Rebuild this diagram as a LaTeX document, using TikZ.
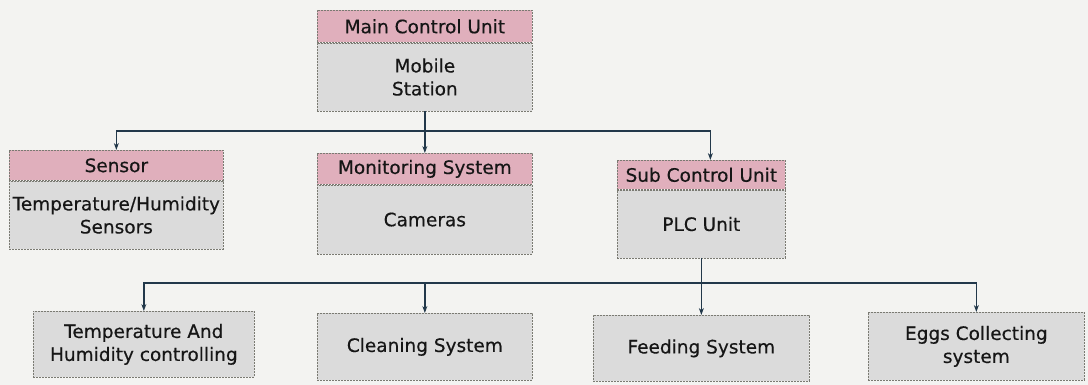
\documentclass[tikz,border=0pt]{standalone}
\usepackage{fontspec}
\setmainfont{DejaVu Sans}[FakeBold=0.4]
\usetikzlibrary{arrows.meta}
\definecolor{paper}{HTML}{F3F3F1}
\definecolor{hdrpink}{HTML}{E0AFBC}
\definecolor{boxgray}{HTML}{DBDBDB}
\definecolor{edge}{HTML}{7A7A72}
\definecolor{wire}{HTML}{22384A}
\definecolor{ink}{HTML}{161616}
\tikzset{
  boxbase/.style={draw=edge, line width=0.7pt, dash pattern=on 2pt off 1pt,
    inner sep=0pt, text=ink, align=center, font=\fontsize{18.5}{23}\selectfont},
  hdr/.style={boxbase, fill=hdrpink},
  bodybox/.style={boxbase, fill=boxgray},
  wireline/.style={draw=wire, line width=1.4pt},
  arrowline/.style={wireline, -{Stealth[length=7pt,width=5pt,fill=gray!70,color=wire]}}
}
\begin{document}
\begin{tikzpicture}[x=1pt,y=-1pt]
\useasboundingbox[fill=paper] (0,0) rectangle (1088,385);
% Main control unit
\node[hdr, minimum width=215pt, minimum height=32pt, anchor=north west] (mainH) at (317,10) {Main Control Unit};
\node[bodybox, minimum width=215pt, minimum height=68pt, anchor=north] (main) at (mainH.south) {Mobile\\Station};
% Sensor
\node[hdr, minimum width=214pt, minimum height=30pt, anchor=north west] (sensH) at (9,150) {Sensor};
\node[bodybox, minimum width=214pt, minimum height=68pt, anchor=north] (sens) at (sensH.south) {Temperature/Humidity\\Sensors};
% Monitoring
\node[hdr, minimum width=215pt, minimum height=31pt, anchor=north west] (monH) at (317,153) {Monitoring System};
\node[bodybox, minimum width=215pt, minimum height=69pt, anchor=north] (mon) at (monH.south) {Cameras};
% Sub control unit
\node[hdr, minimum width=168pt, minimum height=29pt, anchor=north west] (subH) at (617,160) {Sub Control Unit};
\node[bodybox, minimum width=168pt, minimum height=68pt, anchor=north] (sub) at (subH.south) {PLC Unit};
% Bottom row
\node[bodybox, minimum width=221pt, minimum height=66pt, anchor=north west] (temp) at (33,311) {Temperature And\\Humidity controlling};
\node[bodybox, minimum width=215pt, minimum height=67pt, anchor=north west] (clean) at (317,313) {Cleaning System};
\node[bodybox, minimum width=216pt, minimum height=66pt, anchor=north west] (feed) at (593,315) {Feeding System};
\node[bodybox, minimum width=216pt, minimum height=68pt, anchor=north west] (eggs) at (868,312) {Eggs Collecting\\system};
% Connectors level 1
\coordinate (j1) at (main.south |- 0,131);
\coordinate (subIn) at ([xshift=9pt]subH.north);
\draw[wireline] (main.south) -- (j1);
\draw[arrowline] (j1) -| (sensH.north);
\draw[arrowline] (j1) -- (monH.north);
\draw[arrowline] (j1) -| (subIn);
% Connectors level 2
\coordinate (j2) at (sub.south |- 0,283);
\draw[wireline] (sub.south) -- (j2);
\draw[arrowline] (j2) -| (temp.north);
\draw[arrowline] (j2) -| (clean.north);
\draw[arrowline] (j2) -- (feed.north);
\draw[arrowline] (j2) -| (eggs.north);
\end{tikzpicture}
\end{document}
